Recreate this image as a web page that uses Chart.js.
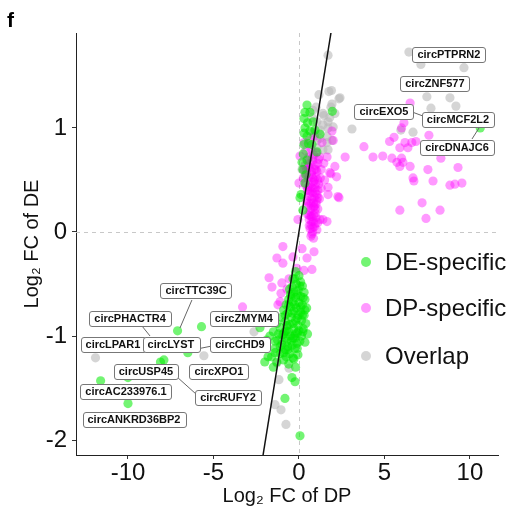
<!DOCTYPE html>
<html><head><meta charset="utf-8">
<script src="https://cdn.jsdelivr.net/npm/chart.js"></script>
<style>html,body{margin:0;padding:0;background:#fff;}#wrap{width:509px;height:510px;}</style>
</head><body><div id="wrap"><canvas id="c" width="509" height="510"></canvas></div>
<script>
const xTicks=[-10,-5,0,5,10];
const yTicks=[-2,-1,0,1];
const xRange=[-13.04,11.64];
const yRange=[-2.144,1.913];
const seriesNames=['DE-specific','DP-specific','Overlap'];

const deSpecific=[
[0.47,1.22],[1.95,1.16],[0.64,1.15],[0.29,1.09],[0.82,1.06],[0.35,1.0],[0.64,0.97],[0.94,0.98],[0.47,0.92],[1.23,0.94],
[0.29,0.84],[0.76,0.84],[1.05,0.77],[0.47,0.69],[0.23,0.6],[0.35,0.47],[0.12,0.36],[0.23,0.21],[0.18,0.67],[0.06,0.33],
[0.35,1.15],[0.3,0.95],[0.5,1.05],[0.55,0.85],[0.25,0.75],[0.4,0.55],
[10.6,1.0],
[-7.1,-0.95],[-5.7,-0.91],[-6.5,-1.16],[-8.1,-1.25],[-7.9,-1.23],[-10.0,-1.4],[-11.6,-1.43],[-10.0,-1.65],
[-0.41,-1.4],[-0.23,-1.44],[-0.82,-1.6],[0.06,-1.96],[-1.81,-1.2],[-2.28,-0.92],
[-0.2,-0.38],[0.0,-0.42],[-0.35,-0.45],[0.1,-0.48],[-0.15,-0.5],[-0.4,-0.53],[0.2,-0.52],[-0.05,-0.56],[-0.3,-0.58],[0.3,-0.58],
[-0.5,-0.6],[0.1,-0.62],[-0.2,-0.63],[-0.6,-0.65],[0.35,-0.65],[-0.35,-0.67],[0.0,-0.68],[-0.75,-0.7],[0.2,-0.7],[-0.5,-0.72],
[-0.15,-0.73],[0.45,-0.73],[-0.9,-0.75],[-0.3,-0.76],[0.1,-0.77],[-0.65,-0.78],[0.3,-0.8],[-0.05,-0.8],[-1.0,-0.82],[-0.45,-0.82],
[-0.2,-0.85],[0.15,-0.85],[-0.8,-0.86],[-1.3,-0.88],[0.4,-0.88],[-0.55,-0.89],[-0.05,-0.9],[-1.1,-0.92],[-0.3,-0.93],[0.25,-0.93],
[-0.75,-0.95],[-1.5,-0.96],[-0.1,-0.97],[-1.0,-0.99],[-0.5,-1.0],[0.5,-0.98],[-1.7,-1.0],[-0.25,-1.02],[-1.25,-1.04],[-0.7,-1.05],
[0.05,-1.05],[-1.9,-1.04],[-1.0,-1.08],[-0.4,-1.09],[-1.4,-1.12],[-0.8,-1.13],[-0.1,-1.12],[-1.1,-1.17],[-0.55,-1.17],[-1.6,-1.2],
[-0.3,-1.22],[-0.9,-1.23],[-1.3,-1.25],[-0.6,-1.27],[-0.2,-1.3],[-2.0,-1.25],[-1.5,-1.3],
[-0.82,-0.96],[-0.35,-1.02],[0.23,-0.96],[0.35,-1.06],[-0.12,-1.07],[-1.4,-1.16],[-0.64,-1.13],[-0.35,-1.21],[-0.06,-1.18],
[-0.25,-0.45],[0.05,-0.52],[-0.45,-0.62],[-0.1,-0.6],[0.25,-0.63],[-0.6,-0.7],[-0.25,-0.7],[0.1,-0.72],[-0.8,-0.8],[-0.4,-0.78],
[-0.1,-0.83],[0.2,-0.8],[-0.7,-0.9],[-0.35,-0.88],[0.0,-0.95],[-0.9,-0.98],[-0.6,-0.96],[-0.2,-0.98],[-1.2,-0.98],[-0.8,-1.02],
[-0.45,-1.05],[-1.1,-1.1],[-0.65,-1.1],[-0.25,-1.12],[-0.9,-1.16],[0.15,-1.0],[-0.55,-0.55],[0.35,-0.75],[-1.4,-1.05],[-0.75,-1.2]
];

const dpSpecific=[
[6.5,1.24],[6.14,1.05],[6.0,1.0],[5.56,0.91],[5.3,0.87],[6.2,0.86],[6.6,0.86],[6.84,0.87],[7.6,0.93],[3.8,0.82],
[5.9,0.81],[6.37,0.81],[2.7,0.72],[4.33,0.72],[4.9,0.73],[5.44,0.71],[5.73,0.67],[6.0,0.71],[6.08,0.67],[5.9,0.63],
[6.5,0.63],[8.3,0.71],[7.54,0.6],[9.3,0.62],[6.67,0.52],[6.72,0.49],[7.84,0.49],[8.83,0.45],[9.12,0.46],[9.53,0.47],
[2.34,0.33],[5.9,0.21],[7.2,0.28],[8.25,0.21],[7.43,0.13],
[1.93,0.97],[2.0,0.88],[0.06,0.73],[1.64,0.72],[2.1,0.63],[1.8,0.57],[2.2,0.53],[0.0,0.47],[1.7,0.43],[1.7,0.36],
[2.28,0.34],[-0.06,0.12],[1.64,0.1],[1.23,0.12],[1.87,0.56],[1.1,0.33],[1.4,0.12],[1.1,0.09],[1.05,0.02],
[0.4,0.78],[0.7,0.8],[1.0,0.76],[1.2,0.72],[0.5,0.7],[0.8,0.68],[1.1,0.66],[0.35,0.64],[0.6,0.62],[0.9,0.6],
[1.3,0.6],[0.45,0.56],[0.75,0.55],[1.0,0.53],[1.25,0.52],[0.55,0.5],[0.85,0.48],[1.15,0.46],[0.4,0.45],[0.7,0.43],
[0.95,0.42],[1.3,0.42],[0.5,0.4],[0.8,0.38],[1.05,0.36],[0.6,0.34],[0.9,0.33],[1.2,0.32],[0.45,0.3],[0.7,0.28],
[1.0,0.27],[0.55,0.25],[0.85,0.24],[1.1,0.22],[0.65,0.2],[0.95,0.18],[0.5,0.17],[0.75,0.15],[1.0,0.14],[0.6,0.12],
[0.85,0.1],[0.7,0.07],[0.9,0.05],[0.65,0.03],[0.8,0.0],[0.7,-0.04],[0.85,-0.06],[0.75,-0.02],[0.3,0.6],[0.25,0.52],
[1.5,0.5],[1.45,0.66],[0.6,0.88],[0.9,0.92],[0.3,0.86],[1.35,0.86],
[0.55,0.72],[0.85,0.74],[1.15,0.7],[0.65,0.66],[0.95,0.64],[0.45,0.6],[0.75,0.58],[1.05,0.58],[0.6,0.53],[0.9,0.5],
[1.1,0.5],[0.65,0.46],[0.95,0.46],[0.5,0.43],[0.8,0.42],[1.1,0.4],[0.65,0.37],[0.95,0.38],[0.75,0.32],[1.05,0.3],
[0.55,0.28],[0.85,0.28],[0.7,0.23],[0.95,0.22],[0.6,0.16],[0.85,0.16],[0.75,0.1],[0.95,0.08],[0.6,0.06],[0.8,0.04],
[0.7,0.15],[0.9,0.25],[0.6,0.4],[0.8,0.52],[1.0,0.6],
[-0.94,-0.14],[0.18,-0.16],[-1.29,-0.25],[-0.94,-0.3],[-0.35,-0.24],[0.88,-0.19],[0.47,-0.25],[-0.12,-0.35],[0.76,-0.36],[0.29,-0.37],
[-1.75,-0.44],[-1.0,-0.49],[-0.58,-0.45],[-1.58,-0.53],[-1.05,-0.59],[-1.23,-0.7],[-3.3,-0.72],[-0.7,-0.55],[-1.11,-0.67]
];

const overlap=[
[6.43,1.73],[7.13,1.61],[9.65,1.58],[7.48,1.30],[8.83,1.29],[7.72,1.19],[9.18,1.21],[3.1,0.99],[6.67,0.96],[5.96,0.98],
[2.4,1.29],[1.9,1.36],
[1.7,1.70],[1.17,1.32],[1.75,1.35],[2.34,1.28],[1.93,1.23],[1.0,1.2],[1.46,1.12],[1.8,1.10],[0.76,1.10],[1.4,1.03],
[1.7,1.0],[0.94,0.95],[1.23,0.9],[1.64,0.86],[1.05,0.81],[1.4,0.79],[0.82,0.72],[0.53,0.63],[0.35,0.53],[0.18,0.6],
[1.87,1.2],[0.82,1.17],[1.4,1.14],[2.1,1.14],[1.05,1.06],[1.7,1.06],[2.0,1.01],[1.23,0.98],[1.64,0.92],[0.82,0.96],
[1.05,0.88],[1.93,0.88],[1.7,0.79],
[-2.63,-0.96],[-1.29,-1.26],[-0.58,-1.31],[-1.17,-1.42],[-1.4,-1.66],[-1.05,-1.71],[-0.76,-1.85],[-5.56,-1.19],[-11.9,-1.21],
[-0.7,-0.9],[-0.3,-1.0],[-1.0,-1.05]
];

const fitLine=[[-2.1,-2.144],[1.87,1.913]];

const labelNames=['circPTPRN2','circZNF577','circEXO5','circMCF2L2','circDNAJC6','circTTC39C','circPHACTR4','circZMYM4',
'circLPAR1','circLYST','circCHD9','circUSP45','circXPO1','circAC233976.1','circRUFY2','circANKRD36BP2'];
const labelX=[8.77,7.95,4.97,9.30,9.24,-6.02,-9.88,-3.22,-10.88,-7.49,-3.45,-8.95,-4.68,-10.12,-4.15,-9.65];
const labelY=[1.707,1.423,1.163,1.077,0.817,-0.567,-0.827,-0.827,-1.077,-1.077,-1.077,-1.337,-1.337,-1.538,-1.587,-1.798];
const leaderLines=[
[6.61,1.154,7.25,1.115],[10.53,1.0,10.12,0.894],[-6.26,-0.654,-6.96,-0.923],[-9.18,-0.904,-8.71,-1.0],
[-5.96,-1.125,-5.09,-1.096],[-7.13,-1.394,-5.96,-1.567]
];

const colors=['rgba(0,235,0,0.55)','rgba(255,0,255,0.4)','rgba(185,185,185,0.6)'];
const FONT='"Liberation Sans", Arial, Helvetica, sans-serif';
const toPts=a=>a.map(p=>({x:p[0],y:p[1]}));

const overlay={
  id:'overlay',
  beforeDatasetsDraw(chart){
    const {ctx,chartArea:a,scales:{x,y}}=chart;
    ctx.save();
    ctx.strokeStyle='#c8c8c8';ctx.lineWidth=1;ctx.setLineDash([4,4]);
    const x0=Math.round(x.getPixelForValue(0))+0.5, y0=Math.round(y.getPixelForValue(0))+0.5;
    ctx.beginPath();ctx.moveTo(x0,a.top);ctx.lineTo(x0,a.bottom);ctx.stroke();
    ctx.beginPath();ctx.moveTo(a.left,y0);ctx.lineTo(a.right,y0);ctx.stroke();
    ctx.restore();
  },
  afterDatasetsDraw(chart){
    const {ctx,scales:{x,y}}=chart;
    ctx.save();
    ctx.strokeStyle='#666';ctx.lineWidth=1;ctx.setLineDash([]);
    leaderLines.forEach(l=>{
      ctx.beginPath();ctx.moveTo(x.getPixelForValue(l[0]),y.getPixelForValue(l[1]));
      ctx.lineTo(x.getPixelForValue(l[2]),y.getPixelForValue(l[3]));ctx.stroke();
    });
    ctx.font='bold 11px '+FONT;ctx.textAlign='center';ctx.textBaseline='middle';
    labelNames.forEach((n,i)=>{
      const cx=x.getPixelForValue(labelX[i]), cy=y.getPixelForValue(labelY[i]);
      const w=ctx.measureText(n).width+10, h=15;
      const l=Math.round(cx-w/2)+0.5, t=Math.round(cy-h/2)+0.5;
      ctx.beginPath();ctx.roundRect(l,t,Math.round(w),h,2.5);
      ctx.fillStyle='#fff';ctx.fill();ctx.strokeStyle='#777';ctx.stroke();
      ctx.fillStyle='#111';ctx.fillText(n,cx,cy+0.5);
    });
    ctx.restore();
  },
  afterDraw(chart){
    const {ctx}=chart;
    ctx.save();
    ctx.font='24px '+FONT;ctx.textAlign='left';ctx.textBaseline='middle';
    const ys=[262,308,356];
    seriesNames.forEach((n,i)=>{
      ctx.beginPath();ctx.arc(366,ys[i],5,0,Math.PI*2);ctx.fillStyle=colors[i];ctx.fill();
      ctx.fillStyle='#111';ctx.fillText(n,385,ys[i]+1);
    });
    ctx.font='bold 21px '+FONT;ctx.textBaseline='alphabetic';ctx.fillStyle='#000';
    ctx.fillText('f',7,27);
    ctx.restore();
  }
};

new Chart(document.getElementById('c'),{
  type:'scatter',
  data:{datasets:[
    {type:'line',label:'fit',data:toPts(fitLine),borderColor:'#111',borderWidth:1.5,pointRadius:0,showLine:true,fill:false,order:0},
    {label:seriesNames[0],data:toPts(deSpecific),backgroundColor:colors[0],pointRadius:4.6,pointBorderWidth:0,borderWidth:0,order:1},
    {label:seriesNames[1],data:toPts(dpSpecific),backgroundColor:colors[1],pointRadius:4.6,pointBorderWidth:0,borderWidth:0,order:2},
    {label:seriesNames[2],data:toPts(overlap),backgroundColor:colors[2],pointRadius:4.6,pointBorderWidth:0,borderWidth:0,order:3}
  ]},
  options:{
    responsive:false,animation:false,devicePixelRatio:1,
    layout:{padding:{left:0,right:11,top:33,bottom:0}},
    plugins:{legend:{display:false},tooltip:{enabled:false}},
    scales:{
      x:{type:'linear',min:xRange[0],max:xRange[1],
        afterBuildTicks:s=>{s.ticks=xTicks.map(v=>({value:v}));},
        afterFit:s=>{s.height=55;},
        ticks:{font:{size:24,family:FONT},color:'#111',padding:0,callback:v=>String(v),maxRotation:0},
        grid:{drawOnChartArea:false,drawTicks:true,tickLength:4,color:'#333'},
        border:{display:true,color:'#222',width:1},
        title:{display:true,text:'Log\u2082 FC of DP',font:{size:20,family:FONT},color:'#111',padding:{top:0,bottom:2}}
      },
      y:{type:'linear',min:yRange[0],max:yRange[1],
        afterBuildTicks:s=>{s.ticks=yTicks.map(v=>({value:v}));},
        afterFit:s=>{s.width=76;},
        ticks:{font:{size:24,family:FONT},color:'#111',padding:5,callback:v=>String(v)},
        grid:{drawOnChartArea:false,drawTicks:true,tickLength:4,color:'#333'},
        border:{display:true,color:'#222',width:1},
        title:{display:true,text:'Log\u2082 FC of DE',font:{size:20,family:FONT},color:'#111',padding:{top:20,bottom:0}}
      }
    }
  },
  plugins:[overlay]
});
</script></body></html>
